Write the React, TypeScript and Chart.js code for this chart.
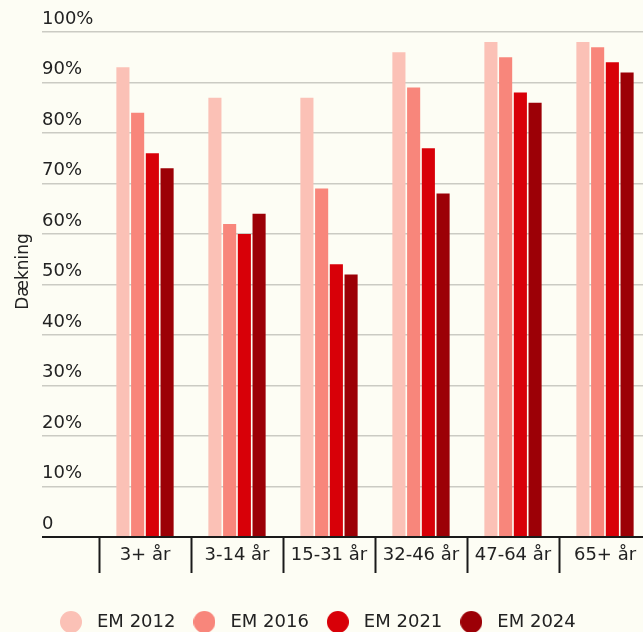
import React, { useEffect, useRef } from 'react';
import { Chart, registerables } from 'chart.js';

Chart.register(...registerables);

// ---- data ----
const categories = ['3+ år', '3-14 år', '15-31 år', '32-46 år', '47-64 år', '65+ år'];
const seriesNames = ['EM 2012', 'EM 2016', 'EM 2021', 'EM 2024'];
const em2012 = [93, 87, 87, 96, 98, 98];
const em2016 = [84, 62, 69, 89, 95, 97];
const em2021 = [76, 60, 54, 77, 88, 94];
const em2024 = [73, 64, 52, 68, 86, 92];
const yMin = 0;
const yMax = 100;
const yStep = 10;
const yAxisTitle = 'Dækning';

// ---- styles ----
const seriesColors = ['#FBC1B6', '#F8867B', '#D80008', '#9C0006'];
const BG = '#FDFDF4';
const TEXT = '#222222';
const GRID = '#CBCBC3';
const AXIS = '#1A1A1A';
const FONT = 'DejaVu Sans';

function makeDot(color: string): HTMLCanvasElement {
  const c = document.createElement('canvas');
  c.width = 22;
  c.height = 22;
  const g = c.getContext('2d')!;
  g.fillStyle = color;
  g.beginPath();
  g.arc(11, 11, 11, 0, Math.PI * 2);
  g.fill();
  return c;
}

export default function App() {
  const ref = useRef<HTMLCanvasElement | null>(null);

  useEffect(() => {
    if (!ref.current) return;
    const dots = seriesColors.map(makeDot);
    const values = [em2012, em2016, em2021, em2024];

    const yTitlePlugin = {
      id: 'yTitlePlugin',
      afterDraw(chart: any) {
        const ctx = chart.ctx;
        const area = chart.chartArea;
        ctx.save();
        ctx.translate(28, (area.top + area.bottom) / 2 - 13);
        ctx.rotate(-Math.PI / 2);
        ctx.fillStyle = TEXT;
        ctx.font = `17px "${FONT}"`;
        ctx.textAlign = 'center';
        ctx.textBaseline = 'alphabetic';
        ctx.fillText(yAxisTitle, 0, 0);
        ctx.restore();
      },
    };

    const chart = new Chart(ref.current, {
      type: 'bar',
      data: {
        labels: categories,
        datasets: seriesNames.map((name, i) => ({
          label: name,
          data: values[i],
          backgroundColor: seriesColors[i],
          borderWidth: 0,
          barPercentage: 0.89,
          categoryPercentage: 0.64,
        })),
      },
      options: {
        responsive: false,
        animation: false,
        events: [],
        layout: { padding: { left: 42, top: 32, right: 0, bottom: 0 } },
        scales: {
          x: {
            z: 1,
            border: { display: true, color: AXIS, width: 2 },
            grid: {
              offset: true,
              drawOnChartArea: false,
              drawTicks: true,
              tickLength: 36,
              tickColor: AXIS,
              tickWidth: 2,
            },
            ticks: {
              color: TEXT,
              font: { family: FONT, size: 18 },
              padding: -28,
              maxRotation: 0,
              autoSkip: false,
            },
            afterFit(scale: any) {
              scale.height = 64;
            },
          },
          y: {
            min: yMin,
            max: yMax,
            border: { display: false },
            grid: {
              drawTicks: true,
              tickLength: 57,
              color: (c: any) => (c.tick && c.tick.value === 0 ? AXIS : GRID),
              tickColor: (c: any) => (c.tick && c.tick.value === 0 ? AXIS : GRID),
              lineWidth: (c: any) => (c.tick && c.tick.value === 0 ? 2 : 1.5),
              tickWidth: (c: any) => (c.tick && c.tick.value === 0 ? 2 : 1.5),
            },
            ticks: {
              stepSize: yStep,
              color: TEXT,
              font: { family: FONT, size: 18 },
              crossAlign: 'far',
              labelOffset: -13,
              padding: 0,
              callback: (v: any) => (Number(v) === 0 ? '0' : `${v}%`),
            },
            afterFit(scale: any) {
              scale.width = 57;
            },
          },
        },
        plugins: {
          tooltip: { enabled: false },
          title: { display: false },
          legend: {
            display: true,
            position: 'bottom',
            align: 'start',
            labels: {
              color: TEXT,
              font: { family: FONT, size: 18 },
              usePointStyle: true,
              pointStyleWidth: 34,
              padding: 12,
              generateLabels: (ch: any) => {
                const items = (Chart.defaults.plugins.legend.labels as any).generateLabels(ch);
                return items.map((it: any) => ({ ...it, pointStyle: dots[it.datasetIndex] }));
              },
            },
          },
        },
      } as any,
      plugins: [yTitlePlugin],
    });

    return () => chart.destroy();
  }, []);

  return (
    <div
      style={{
        position: 'fixed',
        left: 0,
        top: 0,
        width: 643,
        height: 632,
        overflow: 'hidden',
        background: BG,
      }}
    >
      <canvas ref={ref} width={651} height={641} style={{ display: 'block' }} />
    </div>
  );
}
